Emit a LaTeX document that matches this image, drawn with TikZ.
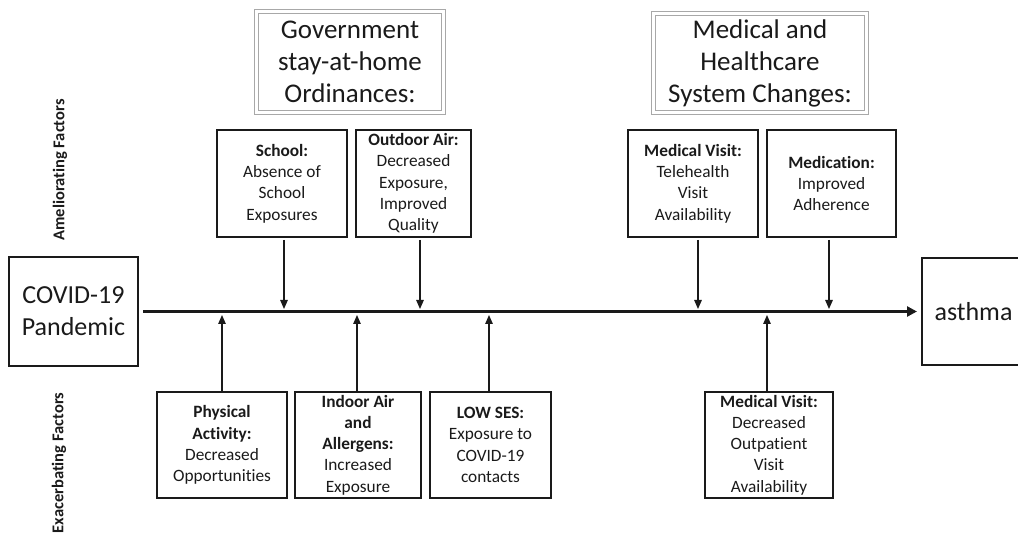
\documentclass[tikz,border=0pt]{standalone}
\usepackage{fontspec}
\setmainfont[Ligatures=NoCommon]{Carlito}
\usetikzlibrary{arrows.meta}
\definecolor{ink}{HTML}{1A1A1A}
\definecolor{frame}{HTML}{A8A8A8}
\begin{document}
\begin{tikzpicture}[x=1pt,y=-1pt,
  every node/.style={inner sep=0pt, outer sep=0pt, text=ink},
  factor/.style={draw=ink, line width=1.2pt, align=center, minimum height=106pt,
    font=\fontsize{17.3}{21.3}\selectfont},
  header/.style={draw=frame, double=white, double distance=2.6pt, line width=1.1pt,
    align=center, font=\fontsize{27}{32}\selectfont},
  endbox/.style={draw=ink, line width=1.2pt, align=center, font=\fontsize{26}{32}\selectfont},
  side/.style={rotate=90, font=\fontsize{16.5}{20}\selectfont\bfseries},
  arr/.style={draw=ink, line width=1.3pt, -{Triangle[length=9pt,width=7.5pt]}},
  mainarr/.style={draw=ink, line width=3pt, -{Triangle[length=10pt,width=10pt]}}]
\useasboundingbox (0,0) rectangle (1018,534);
\clip (0,0) rectangle (1018,534);

% headers
\node[header, minimum width=187pt, minimum height=101pt] (gov) at (350,62)
  {Government\\stay-at-home\\Ordinances:};
\node[header, minimum width=213pt, minimum height=99pt] (med) at (760,63)
  {Medical and\\Healthcare\\System Changes:};

% side labels
\node[side] (amel) at (60,170) {Ameliorating Factors};
\node[side] (exac) at (59,463) {Exacerbating Factors};

% end boxes
\node[endbox, minimum width=129pt, minimum height=109pt] (covid) at (73.5,311.5)
  {COVID-19\\Pandemic};
\node[endbox, minimum width=103pt, minimum height=107pt] (asthma) at (973.5,311.5)
  {asthma};

% ameliorating factors
\node[factor, minimum width=130pt, minimum height=107pt] (school) at (282,183.5)
  {\textbf{School:}\\Absence of\\School\\Exposures};
\node[factor, minimum width=115pt, minimum height=107pt] (outdoor) at (413.5,183.5)
  {\textbf{Outdoor Air:}\\Decreased\\Exposure,\\Improved\\Quality};
\node[factor, minimum width=130pt, minimum height=107pt] (tele) at (693,183.5)
  {\textbf{Medical Visit:}\\Telehealth\\Visit\\Availability};
\node[factor, minimum width=129pt, minimum height=107pt] (medication) at (831.5,183.5)
  {\textbf{Medication:}\\Improved\\Adherence};

% exacerbating factors
\node[factor, minimum width=130pt] (phys) at (222,445)
  {\textbf{Physical}\\\textbf{Activity:}\\Decreased\\Opportunities};
\node[factor, minimum width=126pt] (indoor) at (358,445)
  {\textbf{Indoor Air}\\\textbf{and}\\\textbf{Allergens:}\\Increased\\Exposure};
\node[factor, minimum width=121pt] (ses) at (490.5,445)
  {\textbf{LOW SES:}\\Exposure to\\COVID-19\\contacts};
\node[factor, minimum width=128pt] (outpat) at (769,445)
  {\textbf{Medical Visit:}\\Decreased\\Outpatient\\Visit\\Availability};

% main arrow
\draw[mainarr, shorten <=5pt, shorten >=5pt] (covid.east) -- (asthma.west);

% arrow end points on the main line
\coordinate (d1) at (284,309);
\coordinate (d2) at (420,309);
\coordinate (d3) at (698,309);
\coordinate (d4) at (829,309);
\coordinate (u1) at (222,315);
\coordinate (u2) at (357,315);
\coordinate (u3) at (489,315);
\coordinate (u4) at (767,315);

\draw[arr, shorten <=3pt] (school.south -| d1) -- (d1);
\draw[arr, shorten <=3pt] (outdoor.south -| d2) -- (d2);
\draw[arr, shorten <=3pt] (tele.south -| d3) -- (d3);
\draw[arr, shorten <=3pt] (medication.south -| d4) -- (d4);

\draw[arr, shorten <=1pt] (phys.north -| u1) -- (u1);
\draw[arr, shorten <=1pt] (indoor.north -| u2) -- (u2);
\draw[arr, shorten <=1pt] (ses.north -| u3) -- (u3);
\draw[arr, shorten <=1pt] (outpat.north -| u4) -- (u4);
\end{tikzpicture}
\end{document}
